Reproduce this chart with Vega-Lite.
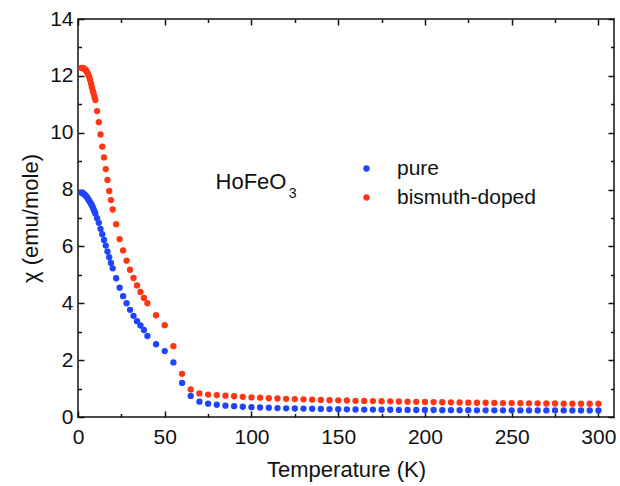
{
  "$schema": "https://vega.github.io/schema/vega-lite/v6.json",
  "width": 536,
  "height": 398,
  "autosize": {"type": "none"},
  "padding": {"left": 78, "top": 19, "right": 6, "bottom": 69},
  "background": "white",
  "config": {
    "view": {"stroke": "#111", "strokeWidth": 1.5},
    "font": "Liberation Sans"
  },
  "datasets": {
    "chi": [
      {"T": 2, "chi": 7.89, "series": "pure"},
      {"T": 2.5, "chi": 7.88, "series": "pure"},
      {"T": 3, "chi": 7.86, "series": "pure"},
      {"T": 3.5, "chi": 7.84, "series": "pure"},
      {"T": 4, "chi": 7.81, "series": "pure"},
      {"T": 4.5, "chi": 7.78, "series": "pure"},
      {"T": 5, "chi": 7.75, "series": "pure"},
      {"T": 5.5, "chi": 7.7, "series": "pure"},
      {"T": 6, "chi": 7.65, "series": "pure"},
      {"T": 6.5, "chi": 7.6, "series": "pure"},
      {"T": 7, "chi": 7.55, "series": "pure"},
      {"T": 7.5, "chi": 7.5, "series": "pure"},
      {"T": 8, "chi": 7.45, "series": "pure"},
      {"T": 8.5, "chi": 7.38, "series": "pure"},
      {"T": 9, "chi": 7.3, "series": "pure"},
      {"T": 9.5, "chi": 7.23, "series": "pure"},
      {"T": 10, "chi": 7.16, "series": "pure"},
      {"T": 11, "chi": 6.99, "series": "pure"},
      {"T": 12, "chi": 6.83, "series": "pure"},
      {"T": 13, "chi": 6.62, "series": "pure"},
      {"T": 14, "chi": 6.43, "series": "pure"},
      {"T": 15, "chi": 6.23, "series": "pure"},
      {"T": 16, "chi": 6.03, "series": "pure"},
      {"T": 17, "chi": 5.82, "series": "pure"},
      {"T": 18, "chi": 5.62, "series": "pure"},
      {"T": 19, "chi": 5.42, "series": "pure"},
      {"T": 20, "chi": 5.23, "series": "pure"},
      {"T": 22, "chi": 4.88, "series": "pure"},
      {"T": 24, "chi": 4.55, "series": "pure"},
      {"T": 26, "chi": 4.25, "series": "pure"},
      {"T": 28, "chi": 4.0, "series": "pure"},
      {"T": 30, "chi": 3.77, "series": "pure"},
      {"T": 32, "chi": 3.56, "series": "pure"},
      {"T": 34, "chi": 3.37, "series": "pure"},
      {"T": 36, "chi": 3.22, "series": "pure"},
      {"T": 38, "chi": 3.06, "series": "pure"},
      {"T": 40, "chi": 2.85, "series": "pure"},
      {"T": 45, "chi": 2.56, "series": "pure"},
      {"T": 50, "chi": 2.32, "series": "pure"},
      {"T": 55, "chi": 1.92, "series": "pure"},
      {"T": 60, "chi": 1.2, "series": "pure"},
      {"T": 65, "chi": 0.74, "series": "pure"},
      {"T": 70, "chi": 0.54, "series": "pure"},
      {"T": 75, "chi": 0.47, "series": "pure"},
      {"T": 80, "chi": 0.43, "series": "pure"},
      {"T": 85, "chi": 0.4, "series": "pure"},
      {"T": 90, "chi": 0.38, "series": "pure"},
      {"T": 95, "chi": 0.36, "series": "pure"},
      {"T": 100, "chi": 0.345, "series": "pure"},
      {"T": 105, "chi": 0.335, "series": "pure"},
      {"T": 110, "chi": 0.325, "series": "pure"},
      {"T": 115, "chi": 0.315, "series": "pure"},
      {"T": 120, "chi": 0.305, "series": "pure"},
      {"T": 125, "chi": 0.3, "series": "pure"},
      {"T": 130, "chi": 0.295, "series": "pure"},
      {"T": 135, "chi": 0.29, "series": "pure"},
      {"T": 140, "chi": 0.285, "series": "pure"},
      {"T": 145, "chi": 0.28, "series": "pure"},
      {"T": 150, "chi": 0.275, "series": "pure"},
      {"T": 155, "chi": 0.27, "series": "pure"},
      {"T": 160, "chi": 0.265, "series": "pure"},
      {"T": 165, "chi": 0.26, "series": "pure"},
      {"T": 170, "chi": 0.26, "series": "pure"},
      {"T": 175, "chi": 0.255, "series": "pure"},
      {"T": 180, "chi": 0.255, "series": "pure"},
      {"T": 185, "chi": 0.25, "series": "pure"},
      {"T": 190, "chi": 0.25, "series": "pure"},
      {"T": 195, "chi": 0.245, "series": "pure"},
      {"T": 200, "chi": 0.245, "series": "pure"},
      {"T": 205, "chi": 0.245, "series": "pure"},
      {"T": 210, "chi": 0.24, "series": "pure"},
      {"T": 215, "chi": 0.24, "series": "pure"},
      {"T": 220, "chi": 0.24, "series": "pure"},
      {"T": 225, "chi": 0.24, "series": "pure"},
      {"T": 230, "chi": 0.235, "series": "pure"},
      {"T": 235, "chi": 0.235, "series": "pure"},
      {"T": 240, "chi": 0.235, "series": "pure"},
      {"T": 245, "chi": 0.235, "series": "pure"},
      {"T": 250, "chi": 0.234, "series": "pure"},
      {"T": 255, "chi": 0.233, "series": "pure"},
      {"T": 260, "chi": 0.232, "series": "pure"},
      {"T": 265, "chi": 0.232, "series": "pure"},
      {"T": 270, "chi": 0.231, "series": "pure"},
      {"T": 275, "chi": 0.231, "series": "pure"},
      {"T": 280, "chi": 0.23, "series": "pure"},
      {"T": 285, "chi": 0.23, "series": "pure"},
      {"T": 290, "chi": 0.23, "series": "pure"},
      {"T": 295, "chi": 0.23, "series": "pure"},
      {"T": 300, "chi": 0.23, "series": "pure"},
      {"T": 2, "chi": 12.28, "series": "bismuth-doped"},
      {"T": 2.5, "chi": 12.28, "series": "bismuth-doped"},
      {"T": 3, "chi": 12.27, "series": "bismuth-doped"},
      {"T": 3.5, "chi": 12.25, "series": "bismuth-doped"},
      {"T": 4, "chi": 12.23, "series": "bismuth-doped"},
      {"T": 4.5, "chi": 12.2, "series": "bismuth-doped"},
      {"T": 5, "chi": 12.16, "series": "bismuth-doped"},
      {"T": 5.5, "chi": 12.1, "series": "bismuth-doped"},
      {"T": 6, "chi": 12.03, "series": "bismuth-doped"},
      {"T": 6.5, "chi": 11.95, "series": "bismuth-doped"},
      {"T": 7, "chi": 11.85, "series": "bismuth-doped"},
      {"T": 7.5, "chi": 11.73, "series": "bismuth-doped"},
      {"T": 8, "chi": 11.6, "series": "bismuth-doped"},
      {"T": 8.5, "chi": 11.48, "series": "bismuth-doped"},
      {"T": 9, "chi": 11.38, "series": "bismuth-doped"},
      {"T": 9.5, "chi": 11.26, "series": "bismuth-doped"},
      {"T": 10, "chi": 11.15, "series": "bismuth-doped"},
      {"T": 11, "chi": 10.76, "series": "bismuth-doped"},
      {"T": 12, "chi": 10.37, "series": "bismuth-doped"},
      {"T": 13, "chi": 9.94, "series": "bismuth-doped"},
      {"T": 14, "chi": 9.51, "series": "bismuth-doped"},
      {"T": 15, "chi": 9.13, "series": "bismuth-doped"},
      {"T": 16, "chi": 8.72, "series": "bismuth-doped"},
      {"T": 17, "chi": 8.34, "series": "bismuth-doped"},
      {"T": 18, "chi": 7.95, "series": "bismuth-doped"},
      {"T": 19, "chi": 7.63, "series": "bismuth-doped"},
      {"T": 20, "chi": 7.3, "series": "bismuth-doped"},
      {"T": 22, "chi": 6.78, "series": "bismuth-doped"},
      {"T": 24, "chi": 6.26, "series": "bismuth-doped"},
      {"T": 26, "chi": 5.86, "series": "bismuth-doped"},
      {"T": 28, "chi": 5.5, "series": "bismuth-doped"},
      {"T": 30, "chi": 5.18, "series": "bismuth-doped"},
      {"T": 32, "chi": 4.89, "series": "bismuth-doped"},
      {"T": 34, "chi": 4.63, "series": "bismuth-doped"},
      {"T": 36, "chi": 4.4, "series": "bismuth-doped"},
      {"T": 38, "chi": 4.19, "series": "bismuth-doped"},
      {"T": 40, "chi": 4.0, "series": "bismuth-doped"},
      {"T": 45, "chi": 3.58, "series": "bismuth-doped"},
      {"T": 50, "chi": 3.23, "series": "bismuth-doped"},
      {"T": 55, "chi": 2.49, "series": "bismuth-doped"},
      {"T": 60, "chi": 1.52, "series": "bismuth-doped"},
      {"T": 65, "chi": 0.97, "series": "bismuth-doped"},
      {"T": 70, "chi": 0.83, "series": "bismuth-doped"},
      {"T": 75, "chi": 0.79, "series": "bismuth-doped"},
      {"T": 80, "chi": 0.77, "series": "bismuth-doped"},
      {"T": 85, "chi": 0.75, "series": "bismuth-doped"},
      {"T": 90, "chi": 0.73, "series": "bismuth-doped"},
      {"T": 95, "chi": 0.71, "series": "bismuth-doped"},
      {"T": 100, "chi": 0.69, "series": "bismuth-doped"},
      {"T": 105, "chi": 0.68, "series": "bismuth-doped"},
      {"T": 110, "chi": 0.66, "series": "bismuth-doped"},
      {"T": 115, "chi": 0.65, "series": "bismuth-doped"},
      {"T": 120, "chi": 0.64, "series": "bismuth-doped"},
      {"T": 125, "chi": 0.63, "series": "bismuth-doped"},
      {"T": 130, "chi": 0.62, "series": "bismuth-doped"},
      {"T": 135, "chi": 0.61, "series": "bismuth-doped"},
      {"T": 140, "chi": 0.6, "series": "bismuth-doped"},
      {"T": 145, "chi": 0.59, "series": "bismuth-doped"},
      {"T": 150, "chi": 0.585, "series": "bismuth-doped"},
      {"T": 155, "chi": 0.58, "series": "bismuth-doped"},
      {"T": 160, "chi": 0.57, "series": "bismuth-doped"},
      {"T": 165, "chi": 0.565, "series": "bismuth-doped"},
      {"T": 170, "chi": 0.56, "series": "bismuth-doped"},
      {"T": 175, "chi": 0.555, "series": "bismuth-doped"},
      {"T": 180, "chi": 0.55, "series": "bismuth-doped"},
      {"T": 185, "chi": 0.545, "series": "bismuth-doped"},
      {"T": 190, "chi": 0.54, "series": "bismuth-doped"},
      {"T": 195, "chi": 0.535, "series": "bismuth-doped"},
      {"T": 200, "chi": 0.53, "series": "bismuth-doped"},
      {"T": 205, "chi": 0.525, "series": "bismuth-doped"},
      {"T": 210, "chi": 0.52, "series": "bismuth-doped"},
      {"T": 215, "chi": 0.515, "series": "bismuth-doped"},
      {"T": 220, "chi": 0.51, "series": "bismuth-doped"},
      {"T": 225, "chi": 0.505, "series": "bismuth-doped"},
      {"T": 230, "chi": 0.5, "series": "bismuth-doped"},
      {"T": 235, "chi": 0.5, "series": "bismuth-doped"},
      {"T": 240, "chi": 0.495, "series": "bismuth-doped"},
      {"T": 245, "chi": 0.49, "series": "bismuth-doped"},
      {"T": 250, "chi": 0.49, "series": "bismuth-doped"},
      {"T": 255, "chi": 0.485, "series": "bismuth-doped"},
      {"T": 260, "chi": 0.48, "series": "bismuth-doped"},
      {"T": 265, "chi": 0.48, "series": "bismuth-doped"},
      {"T": 270, "chi": 0.475, "series": "bismuth-doped"},
      {"T": 275, "chi": 0.475, "series": "bismuth-doped"},
      {"T": 280, "chi": 0.47, "series": "bismuth-doped"},
      {"T": 285, "chi": 0.47, "series": "bismuth-doped"},
      {"T": 290, "chi": 0.47, "series": "bismuth-doped"},
      {"T": 295, "chi": 0.465, "series": "bismuth-doped"},
      {"T": 300, "chi": 0.465, "series": "bismuth-doped"}
    ]
  },
  "layer": [
    {
      "data": {"name": "chi"},
      "mark": {"type": "point", "filled": true, "size": 40, "opacity": 1},
      "encoding": {
        "x": {
          "field": "T", "type": "quantitative",
          "scale": {"domain": [0, 309], "nice": false, "zero": false},
          "axis": {
            "orient": "bottom",
            "values": [0, 25, 50, 75, 100, 125, 150, 175, 200, 225, 250, 275, 300],
            "labelExpr": "datum.value % 50 === 0 ? datum.label : ''",
            "domain": false, "grid": false,
            "tickColor": "#111", "tickWidth": 1.5,
            "tickSize": {"condition": {"test": "datum.value % 50 === 0", "value": -6}, "value": -3.5},
            "labelFont": "Liberation Sans", "labelFontSize": 21, "labelColor": "#111",
            "labelPadding": 15, "labelFlush": false, "labelOverlap": false,
            "title": "Temperature (K)", "titleFont": "Liberation Sans", "titleFontSize": 22,
            "titleFontWeight": "normal", "titleColor": "#111", "titlePadding": 10
          }
        },
        "y": {
          "field": "chi", "type": "quantitative",
          "scale": {"domain": [0, 14], "nice": false},
          "axis": {
            "orient": "left",
            "values": [0, 1, 2, 3, 4, 5, 6, 7, 8, 9, 10, 11, 12, 13, 14],
            "labelExpr": "datum.value % 2 === 0 ? datum.label : ''",
            "domain": false, "grid": false,
            "tickColor": "#111", "tickWidth": 1.5,
            "tickSize": {"condition": {"test": "datum.value % 2 === 0", "value": -6}, "value": -3.5},
            "labelFont": "Liberation Sans", "labelFontSize": 21, "labelColor": "#111",
            "labelPadding": 11, "labelFlush": false, "labelOverlap": false,
            "title": "χ (emu/mole)", "titleFont": "Liberation Sans", "titleFontSize": 22,
            "titleFontWeight": "normal", "titleColor": "#111", "titlePadding": 7
          }
        },
        "color": {
          "field": "series", "type": "nominal",
          "scale": {"domain": ["pure", "bismuth-doped"], "range": ["#1f44ff", "#ff3514"]},
          "legend": {
            "orient": "none", "legendX": 278, "legendY": 139,
            "title": null, "padding": 0,
            "symbolType": "circle", "symbolSize": 40, "symbolStrokeWidth": 0,
            "labelFont": "Liberation Sans", "labelFontSize": 21, "labelColor": "#111",
            "labelOffset": 20, "rowPadding": 7
          }
        }
      }
    },
    {
      "data": {"name": "chi"},
      "mark": {"type": "point", "opacity": 0},
      "encoding": {
        "x": {
          "field": "T", "type": "quantitative",
          "axis": {
            "orient": "top",
            "values": [0, 25, 50, 75, 100, 125, 150, 175, 200, 225, 250, 275, 300],
            "labels": false, "domain": false, "grid": false, "title": null,
            "tickColor": "#111", "tickWidth": 1.5,
            "tickSize": {"condition": {"test": "datum.value % 50 === 0", "value": -6}, "value": -3.5}
          }
        },
        "y": {
          "field": "chi", "type": "quantitative",
          "axis": {
            "orient": "right",
            "values": [0, 1, 2, 3, 4, 5, 6, 7, 8, 9, 10, 11, 12, 13, 14],
            "labels": false, "domain": false, "grid": false, "title": null,
            "tickColor": "#111", "tickWidth": 1.5,
            "tickSize": {"condition": {"test": "datum.value % 2 === 0", "value": -6}, "value": -3.5}
          }
        }
      }
    },
    {
      "data": {"values": [{"label": "HoFeO"}]},
      "mark": {"type": "text", "align": "left", "baseline": "alphabetic", "font": "Liberation Sans", "fontSize": 22, "color": "#111"},
      "encoding": {
        "x": {"datum": 79.3, "type": "quantitative", "axis": null},
        "y": {"datum": 8.01, "type": "quantitative", "axis": null},
        "text": {"field": "label"}
      }
    },
    {
      "data": {"values": [{"label": "3"}]},
      "mark": {"type": "text", "align": "left", "baseline": "alphabetic", "font": "Liberation Sans", "fontSize": 14, "color": "#111"},
      "encoding": {
        "x": {"datum": 121.5, "type": "quantitative", "axis": null},
        "y": {"datum": 7.69, "type": "quantitative", "axis": null},
        "text": {"field": "label"}
      }
    }
  ],
  "resolve": {"axis": {"x": "independent", "y": "independent"}}
}
